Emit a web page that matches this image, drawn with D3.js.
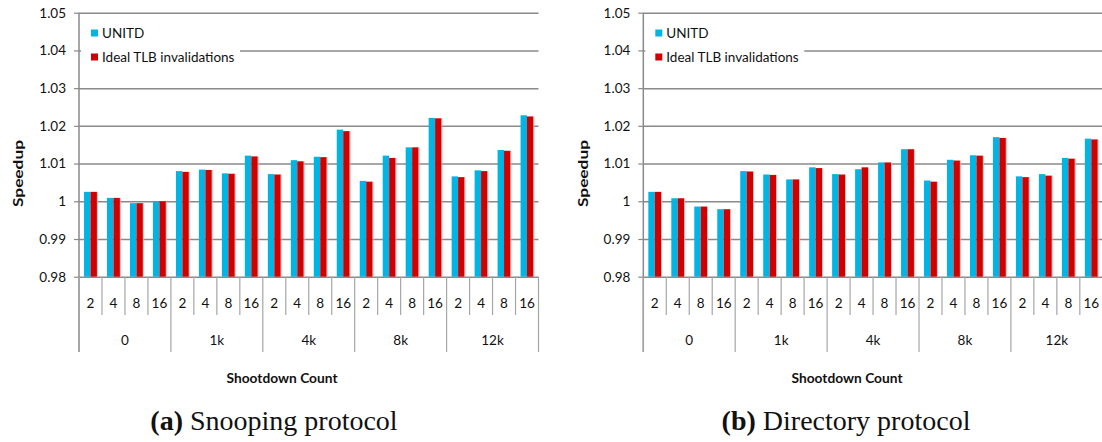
<!DOCTYPE html>
<html>
<head>
<meta charset="utf-8">
<script src="https://cdn.jsdelivr.net/npm/d3@7"></script>
<style>
  html, body { margin: 0; padding: 0; background: #fff; }
  svg { display: block; }
  .tick text { font-family: Lato, "Open Sans", sans-serif; }
</style>
</head>
<body>
<svg id="chart" width="1102" height="442"></svg>
<script>
// ---------------- DATA ----------------
const groups = ["0", "1k", "4k", "8k", "12k"];
const counts = ["2", "4", "8", "16"];
const seriesNames = ["UNITD", "Ideal TLB invalidations"];
const yTicks = [0.98, 0.99, 1.00, 1.01, 1.02, 1.03, 1.04, 1.05];
const yTickLabels = ["0.98", "0.99", "1", "1.01", "1.02", "1.03", "1.04", "1.05"];

// (a) Snooping protocol
const snoopUNITD = [1.0025, 1.0009, 0.9995, 0.9999, 1.0080, 1.0084, 1.0074, 1.0121,
                    1.0072, 1.0109, 1.0118, 1.0190, 1.0054, 1.0121, 1.0143, 1.0221,
                    1.0066, 1.0082, 1.0136, 1.0228];
const snoopIdeal = [1.0025, 1.0009, 0.9995, 1.0000, 1.0078, 1.0083, 1.0073, 1.0119,
                    1.0071, 1.0106, 1.0117, 1.0186, 1.0052, 1.0115, 1.0143, 1.0220,
                    1.0064, 1.0080, 1.0134, 1.0225];
// (b) Directory protocol
const dirUNITD = [1.0025, 1.0008, 0.9986, 0.9979, 1.0080, 1.0071, 1.0058, 1.0090,
                  1.0072, 1.0085, 1.0103, 1.0138, 1.0055, 1.0110, 1.0122, 1.0170,
                  1.0066, 1.0072, 1.0115, 1.0166];
const dirIdeal = [1.0025, 1.0008, 0.9986, 0.9979, 1.0079, 1.0070, 1.0058, 1.0088,
                  1.0071, 1.0090, 1.0103, 1.0138, 1.0052, 1.0108, 1.0121, 1.0168,
                  1.0064, 1.0068, 1.0113, 1.0164];

const panels = [
  { left: 79, series: [snoopUNITD, snoopIdeal], capTag: "(a)", capText: " Snooping protocol", capX: 274, titleX: 282 },
  { left: 643.3, series: [dirUNITD, dirIdeal], capTag: "(b)", capText: " Directory protocol", capX: 846, titleX: 847 }
];

const colors = ["#00b4e4", "#d10000"];
const gridColor = "#8a8a8a";
const sepColor = "#a6a6a6";
const font = "Lato, 'Open Sans', sans-serif";

// ---------------- LAYOUT ----------------
const plotW = 459.5;
const yTop = 12.7, yBot = 276.7;
const innerSepBottom = 315, groupSepBottom = 352;

const svg = d3.select("#chart");

// categories: group x count
const cats = [];
groups.forEach(g => counts.forEach(c => cats.push({ g, c, id: g + "|" + c })));

panels.forEach(p => {
  const g = svg.append("g");
  const x = d3.scaleBand().domain(cats.map(d => d.id)).range([p.left, p.left + plotW]);
  const xs = d3.scaleBand().domain(seriesNames).range([0, x.bandwidth()]).paddingOuter(0.78);
  const y = d3.scaleLinear().domain([0.98, 1.05]).range([yBot, yTop]);

  // gridlines
  const grid = g.append("g").attr("transform", `translate(${p.left},0)`)
    .call(d3.axisLeft(y).tickValues(yTicks).tickSize(-plotW).tickFormat(""));
  grid.select(".domain").remove();
  grid.selectAll("line").attr("stroke", gridColor).attr("stroke-width", 1.5);

  // y axis with labels
  const yAxis = g.append("g").attr("transform", `translate(${p.left},0)`)
    .call(d3.axisLeft(y).tickValues(yTicks).tickSize(5).tickPadding(8)
      .tickFormat((d, i) => yTickLabels[i]));
  yAxis.select(".domain").remove();
  yAxis.selectAll("line").attr("stroke", gridColor).attr("stroke-width", 1.2);
  yAxis.selectAll("text").attr("font-size", 13.5).attr("fill", "#111").attr("font-family", font);

  // axis vertical line
  g.append("line").attr("x1", p.left).attr("x2", p.left)
    .attr("y1", yTop).attr("y2", groupSepBottom)
    .attr("stroke", gridColor).attr("stroke-width", 1.5);

  // bars
  p.series.forEach((vals, si) => {
    g.append("g").selectAll("rect").data(vals).join("rect")
      .attr("x", (d, i) => x(cats[i].id) + xs(seriesNames[si]))
      .attr("width", xs.bandwidth())
      .attr("y", d => y(d))
      .attr("height", d => y(0.98) - y(d))
      .attr("fill", colors[si]);
  });
  // light edge on red bars (Excel shadow look)
  g.append("g").selectAll("rect").data(p.series[1]).join("rect")
    .attr("x", (d, i) => x(cats[i].id) + xs(seriesNames[1]) + xs.bandwidth())
    .attr("width", 0.8)
    .attr("y", d => y(d))
    .attr("height", d => y(0.98) - y(d))
    .attr("fill", "#f0a8a8");

  // category separators
  const bounds = cats.map((d, i) => ({ x: x(d.id), group: i % counts.length === 0 }));
  bounds.push({ x: p.left + plotW, group: true });
  g.append("g").selectAll("line").data(bounds).join("line")
    .attr("x1", d => d.x).attr("x2", d => d.x)
    .attr("y1", yBot).attr("y2", d => d.group ? groupSepBottom : innerSepBottom)
    .attr("stroke", sepColor).attr("stroke-width", 1.2);

  // category labels
  g.append("g").selectAll("text").data(cats).join("text")
    .attr("x", d => x(d.id) + x.bandwidth() / 2)
    .attr("y", 303).attr("dy", "0.35em")
    .attr("text-anchor", "middle").attr("font-family", font).attr("font-size", 13.5).attr("fill", "#111")
    .text(d => d.c);

  // group labels
  g.append("g").selectAll("text").data(groups).join("text")
    .attr("x", d => x(d + "|" + counts[0]) + x.bandwidth() * counts.length / 2)
    .attr("y", 340).attr("dy", "0.35em")
    .attr("text-anchor", "middle").attr("font-family", font).attr("font-size", 13.5).attr("fill", "#111")
    .text(d => d);

  // legend
  const lg = g.append("g");
  lg.append("rect").attr("x", p.left + 2).attr("y", 18).attr("width", 159).attr("height", 52).attr("fill", "#fff");
  seriesNames.forEach((s, i) => {
    const cy = 33 + i * 24;
    lg.append("rect").attr("x", p.left + 12).attr("y", cy - 3.5).attr("width", 7).attr("height", 7).attr("fill", colors[i]);
    lg.append("text").attr("x", p.left + 23).attr("y", cy).attr("dy", "0.35em")
      .attr("font-family", font).attr("font-size", 13.5).attr("fill", "#111").text(s);
  });

  // y title
  g.append("text")
    .attr("transform", `translate(${p.left - 60},173.5) rotate(-90)`)
    .attr("text-anchor", "middle").attr("dy", "0.35em")
    .attr("font-family", font).attr("font-weight", "bold").attr("font-size", 12.5).attr("fill", "#111")
    .attr("textLength", 67).attr("lengthAdjust", "spacingAndGlyphs")
    .text("Speedup");

  // x title
  g.append("text").attr("x", p.titleX).attr("y", 378).attr("dy", "0.35em")
    .attr("text-anchor", "middle").attr("font-family", font).attr("font-weight", "bold")
    .attr("font-size", 14).attr("fill", "#111")
    .attr("textLength", 111).attr("lengthAdjust", "spacingAndGlyphs")
    .text("Shootdown Count");

  // caption
  const cap = svg.append("text").attr("x", p.capX).attr("y", 430)
    .attr("text-anchor", "middle").attr("font-family", "'Liberation Serif', 'DejaVu Serif', serif")
    .attr("font-size", 28).attr("fill", "#111");
  cap.append("tspan").attr("font-weight", "bold").text(p.capTag);
  cap.append("tspan").text(p.capText);
});
</script>
</body>
</html>
